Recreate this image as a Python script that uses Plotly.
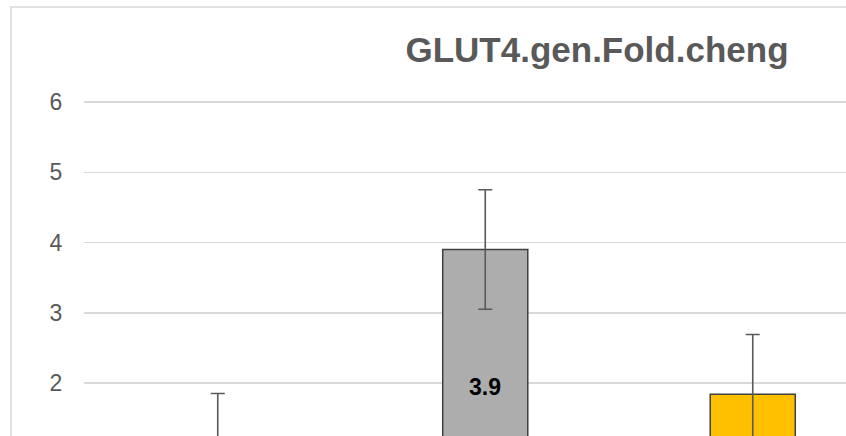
import plotly.graph_objects as go

categories = ["Control", "Treatment A", "Treatment B"]
values = [1.0, 3.9, 1.84]
errors = [0.85, 0.85, 0.85]
colors = ["#4472C4", "#ADADAD", "#FFC000"]
labels = ["1.0", "3.9", "1.8"]
y_ticks = [1, 2, 3, 4, 5, 6]

x_idx = list(range(len(categories)))

fig = go.Figure()
fig.add_trace(go.Bar(
    x=x_idx, y=values,
    marker=dict(color=colors, line=dict(color="#404040", width=1.5)),
    error_y=dict(type="data", array=errors, visible=True, color="#595959", thickness=1.6, width=7),
    width=0.318,
    hoverinfo="skip",
))

for i, (v, lab) in enumerate(zip(values, labels)):
    fig.add_annotation(x=i, y=v / 2, xref="x", yref="y", text="<b>" + lab + "</b>",
                       showarrow=False, font=dict(family="Liberation Sans", size=23, color="#000000"))

fig.add_shape(type="rect", xref="paper", yref="paper",
              x0=(11 - 84) / 762, x1=1.2, y0=-0.2, y1=1 + (90 - 7) / 346,
              line=dict(color="#D9D9D9", width=1.5), fillcolor="rgba(0,0,0,0)", layer="below")

fig.update_layout(
    width=846, height=436,
    margin=dict(l=84, r=0, t=90, b=0),
    paper_bgcolor="white", plot_bgcolor="white",
    showlegend=False,
    title=dict(text="<b>GLUT4.gen.Fold.cheng</b>", x=597 / 846, xref="container", xanchor="center",
               y=1 - 50 / 436, yanchor="middle",
               font=dict(family="Liberation Sans", size=35, color="#595959")),
    xaxis=dict(range=[-0.5, -0.5 + 762 / 267.5], showticklabels=False, showgrid=False,
               zeroline=False, showline=False, ticks=""),
    yaxis=dict(range=[2 - 53 / 70.25, 2 - 53 / 70.25 + 346 / 70.25], tickvals=y_ticks,
               showgrid=True, gridcolor="#D9D9D9", gridwidth=1.5, zeroline=False, showline=False,
               ticks="outside", ticklen=16, tickcolor="rgba(0,0,0,0)",
               tickfont=dict(family="Liberation Sans", size=23, color="#595959")),
)

fig.write_html("out.html", config={"displayModeBar": False, "staticPlot": True},
               post_script="document.body.style.margin='0px';document.body.style.overflow='hidden';")
